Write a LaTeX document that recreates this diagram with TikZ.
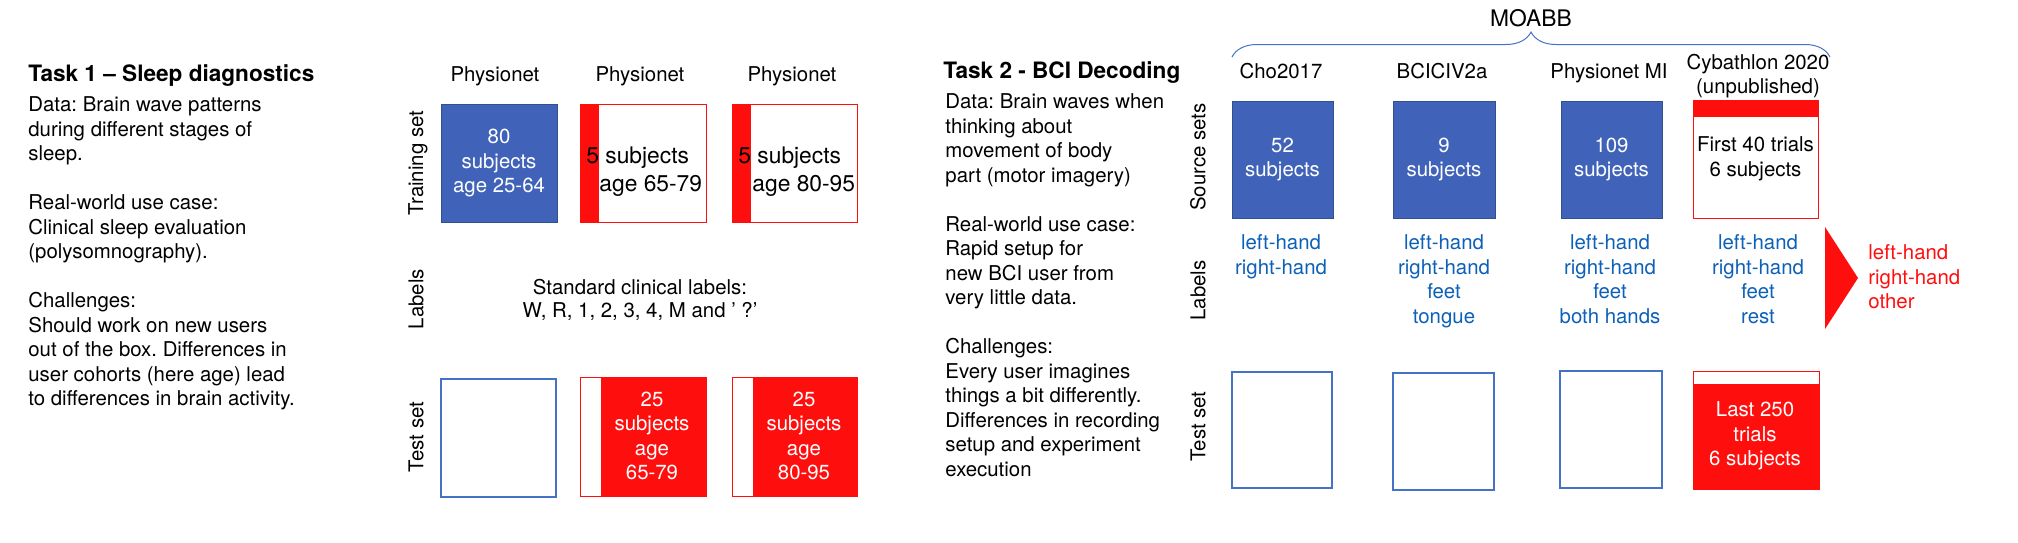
\documentclass[tikz,border=0pt]{standalone}
\usepackage{fontspec}
\setmainfont{TeX Gyre Heros}
\usetikzlibrary{decorations.pathreplacing}
\frenchspacing

\definecolor{boxblue}{RGB}{64,99,185}
\definecolor{boxline}{RGB}{47,82,143}
\definecolor{lineblue}{RGB}{68,114,196}
\definecolor{lblblue}{RGB}{12,96,184}
\definecolor{setred}{RGB}{255,14,14}

\newcommand\txtsize{\fontsize{10.2pt}{12.25pt}\selectfont}
\newcommand\bigsize{\fontsize{11.4pt}{14pt}\selectfont}
\newcommand\headsize{\fontsize{11.3pt}{13.5pt}\selectfont\bfseries}

\begin{document}
\begin{tikzpicture}[x=0.5pt, y=-0.5pt,
  every node/.style={font=\txtsize, inner sep=0pt},
  body/.style={anchor=base west, align=left},
  head/.style={anchor=base west, font=\headsize},
  dset/.style={anchor=base, align=center},
  side/.style={rotate=90},
  lab/.style={anchor=base, align=center, text=lblblue},
  wtxt/.style={text=white, align=center},
  srcbox/.style={draw=boxline, fill=boxblue, text=white, align=center,
                 line width=0.5pt},
  emptybox/.style={draw=lineblue, line width=0.6pt},
  trainred/.style={draw=setred, line width=0.5pt,
    path picture={\fill[setred] (path picture bounding box.north west)
      rectangle ([xshift=9.5pt]path picture bounding box.south west);}},
  testred/.style={draw=setred, line width=0.5pt,
    path picture={\fill[setred] ([xshift=10.5pt]path picture bounding box.north west)
      rectangle (path picture bounding box.south east);}},
  cybsrc/.style={draw=setred, line width=0.5pt, align=center,
    path picture={\fill[setred] (path picture bounding box.north west)
      rectangle ([yshift=-8.5pt]path picture bounding box.north east);}},
  cybtest/.style={draw=setred, line width=0.5pt,
    path picture={\fill[setred] ([yshift=-6.5pt]path picture bounding box.north west)
      rectangle (path picture bounding box.south east);}}
]
  \useasboundingbox (0,0) rectangle (2018,542);

  \node[head] (task1) at (28,81) {Task 1 – Sleep diagnostics};
  \node[body] (task1txt) at (28,405.5) {Data: Brain wave patterns\\during different stages of\\sleep.\\[12.25pt]
    Real-world use case:\\Clinical sleep evaluation\\(polysomnography).\\[12.25pt]
    Challenges:\\Should work on new users\\out of the box. Differences in\\user cohorts (here age) lead\\to differences in brain activity.};

  \node[dset] (phys1) at (495,81.5) {Physionet};
  \node[dset] (phys2) at (640,81.5) {Physionet};
  \node[dset] (phys3) at (792,81.5) {Physionet};

  \node[side] (trainlab) at (418,163) {Training set};
  \node[side] (lablab1) at (416,299) {Labels};
  \node[side] (testlab1) at (416,437) {Test set};

  \node[srcbox, minimum width=58pt, minimum height=59pt] (tr1) at (499,163) {80\\subjects\\age 25-64};
  \node[trainred, minimum width=63pt, minimum height=59pt] (tr2) at (643,163) {};
  \node[anchor=base west, font=\bigsize] (tr2a) at (586,163) {5 subjects};
  \node[anchor=base west, font=\bigsize] (tr2b) at (599,191) {age 65-79};
  \node[trainred, minimum width=62.5pt, minimum height=59pt] (tr3) at (794.5,163) {};
  \node[anchor=base west, font=\bigsize] (tr3a) at (738,163) {5 subjects};
  \node[anchor=base west, font=\bigsize] (tr3b) at (752,191) {age 80-95};

  \node[dset, font=\fontsize{10.2pt}{11.5pt}\selectfont] (stdlab) at (640,317.5)
    {Standard clinical labels:\\W, R, 1, 2, 3, 4, M and ’ ?’};

  \node[emptybox, minimum width=57.5pt, minimum height=59pt] (te1) at (498.5,438) {};
  \node[testred, minimum width=63pt, minimum height=59.5pt] (te2) at (643,436.5) {};
  \node[wtxt] (te2t) at (652,436) {25\\subjects\\age\\65-79};
  \node[testred, minimum width=62.5pt, minimum height=59.5pt] (te3) at (794.5,436.5) {};
  \node[wtxt] (te3t) at (804,436) {25\\subjects\\age\\80-95};

  \node[head] (task2) at (943,78) {Task 2 - BCI Decoding};
  \node[body] (task2txt) at (945,476) {Data: Brain waves when\\thinking about\\movement of body\\part (motor imagery)\\[12.25pt]
    Real-world use case:\\Rapid setup for\\new BCI user from\\very little data.\\[12.25pt]
    Challenges:\\Every user imagines\\things a bit differently.\\Differences in recording\\setup and experiment\\execution};

  \node[anchor=base, font=\bigsize] (moabb) at (1531,26) {MOABB};
  \coordinate (brl) at (1232,57);
  \coordinate (brr) at (1830,57);
  \draw[lineblue, line width=0.5pt, decorate, decoration={brace, amplitude=12.5pt}] (brl) -- (brr);

  \node[dset] (cho) at (1281,78.5) {Cho2017};
  \node[dset] (bci) at (1442,78.5) {BCICIV2a};
  \node[dset] (physmi) at (1609,78.5) {Physionet MI};
  \node[dset] (cyb) at (1758,93.5) {Cybathlon 2020\\(unpublished)};

  \node[side] (srclab) at (1198,157) {Source sets};
  \node[side] (lablab2) at (1198,290.5) {Labels};
  \node[side] (testlab2) at (1198,426.5) {Test set};

  \node[srcbox, minimum width=50.5pt, minimum height=58.5pt] (s1) at (1282.5,159.5) {52\\subjects};
  \node[srcbox, minimum width=51pt, minimum height=58.5pt] (s2) at (1444,159.5) {9\\subjects};
  \node[srcbox, minimum width=50.5pt, minimum height=58.5pt] (s3) at (1611.5,159.5) {109\\subjects};
  \node[cybsrc, minimum width=62.5pt, minimum height=59pt] (s4) at (1755.5,159) {First 40 trials\\6 subjects};

  \node[lab] (lab1) at (1281,274) {left-hand\\right-hand};
  \node[lab] (lab2) at (1444,323) {left-hand\\right-hand\\feet\\tongue};
  \node[lab] (lab3) at (1610,323) {left-hand\\right-hand\\feet\\both hands};
  \node[lab] (lab4) at (1758,323) {left-hand\\right-hand\\feet\\rest};

  \fill[setred] (1825,227) -- (1858,278) -- (1825,329) -- cycle;
  \node[body, text=setred] (target) at (1868,308.5) {left-hand\\right-hand\\other};

  \node[emptybox, minimum width=50pt, minimum height=58pt] (t1) at (1282,430) {};
  \node[emptybox, minimum width=50.5pt, minimum height=58.5pt] (t2) at (1443.5,431.5) {};
  \node[emptybox, minimum width=51pt, minimum height=58.5pt] (t3) at (1611,429.5) {};
  \node[cybtest, minimum width=63pt, minimum height=59pt] (t4) at (1756,430) {};
  \node[wtxt] (t4t) at (1755,436) {Last 250\\trials\\6 subjects};
\end{tikzpicture}
\end{document}
